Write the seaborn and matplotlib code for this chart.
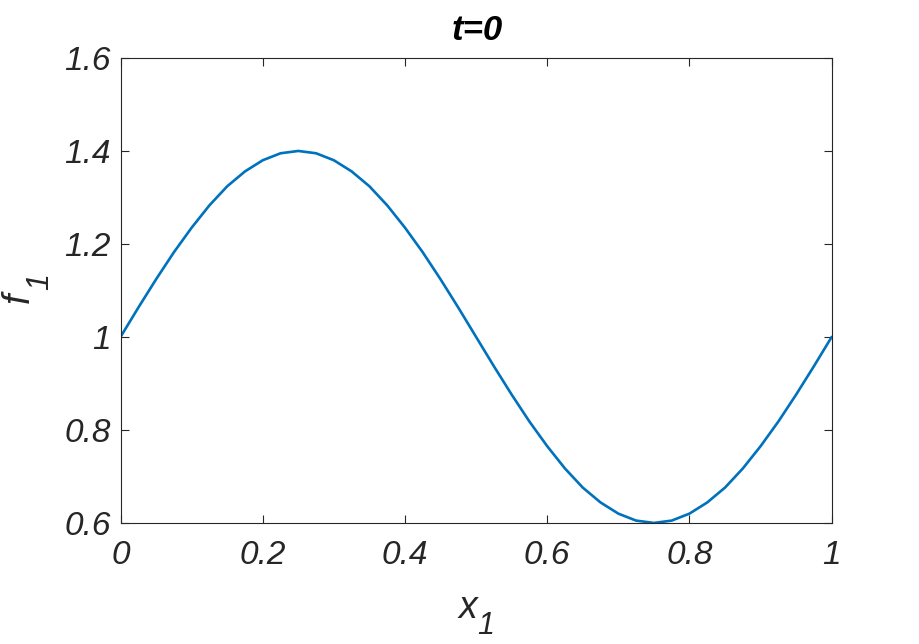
import numpy as np
import pandas as pd
import matplotlib
matplotlib.use('Agg')
import matplotlib.pyplot as plt
import seaborn as sns

# values (x step 0.025)
x_vals = [0.000, 0.025, 0.050, 0.075, 0.100, 0.125, 0.150, 0.175, 0.200, 0.225,
          0.250, 0.275, 0.300, 0.325, 0.350, 0.375, 0.400, 0.425, 0.450, 0.475,
          0.500, 0.525, 0.550, 0.575, 0.600, 0.625, 0.650, 0.675, 0.700, 0.725,
          0.750, 0.775, 0.800, 0.825, 0.850, 0.875, 0.900, 0.925, 0.950, 0.975,
          1.000]
f_vals = [1.000, 1.063, 1.124, 1.182, 1.235, 1.283, 1.324, 1.356, 1.380, 1.395,
          1.400, 1.395, 1.380, 1.356, 1.324, 1.283, 1.235, 1.182, 1.124, 1.063,
          1.000, 0.937, 0.876, 0.818, 0.765, 0.717, 0.676, 0.644, 0.620, 0.605,
          0.600, 0.605, 0.620, 0.644, 0.676, 0.717, 0.765, 0.818, 0.876, 0.937,
          1.000]
x_ticks = [0, 0.2, 0.4, 0.6, 0.8, 1]
x_tick_labels = ['0', '0.2', '0.4', '0.6', '0.8', '1']
y_ticks = [0.6, 0.8, 1.0, 1.2, 1.4, 1.6]
y_tick_labels = ['0.6', '0.8', '1', '1.2', '1.4', '1.6']

df = pd.DataFrame({'x1': x_vals, 'f1': f_vals})

sns.set_style('white')
plt.rcParams['font.family'] = ['Liberation Sans', 'DejaVu Sans']
plt.rcParams['font.style'] = 'italic'

dark = '#262626'

fig = plt.figure(figsize=(9.2, 6.44), dpi=100)
ax = fig.add_axes([0.131, 0.188, 0.773, 0.722])

sns.lineplot(data=df, x='x1', y='f1', color='#0072BD', linewidth=1.9, ax=ax)

ax.set_xlim(0, 1)
ax.set_ylim(0.6, 1.6)
ax.set_xticks(x_ticks)
ax.set_xticklabels(x_tick_labels, fontsize=24, style='italic', color=dark)
ax.set_yticks(y_ticks)
ax.set_yticklabels(y_tick_labels, fontsize=24, style='italic', color=dark)
ax.tick_params(direction='in', length=6, width=0.8, color=dark,
               top=True, right=True, bottom=True, left=True)
ax.tick_params(axis='x', pad=12)
ax.tick_params(axis='y', pad=7)
for s in ax.spines.values():
    s.set_color(dark)
    s.set_linewidth(0.8)
    s.set_visible(True)

ax.set_xlabel('')
ax.set_ylabel('')

# axis labels with MATLAB-like subscripts
fig.text(468 / 920, 1 - 608 / 644, 'x', fontsize=27, style='italic', color=dark,
         ha='center', va='center')
fig.text(486 / 920, 1 - 626 / 644, '1', fontsize=22, style='italic', color=dark,
         ha='center', va='center')
fig.text(19 / 920, 1 - 298 / 644, 'f', fontsize=27, style='italic', color=dark,
         ha='center', va='center', rotation=90)
fig.text(40 / 920, 1 - 282 / 644, '1', fontsize=22, style='italic', color=dark,
         ha='center', va='center', rotation=90)

fig.text(477 / 920, 1 - 30 / 644, 't=0', fontsize=25, style='italic',
         fontweight='bold', color='black', ha='center', va='center')

fig.savefig('out.png', dpi=100, facecolor='white')
